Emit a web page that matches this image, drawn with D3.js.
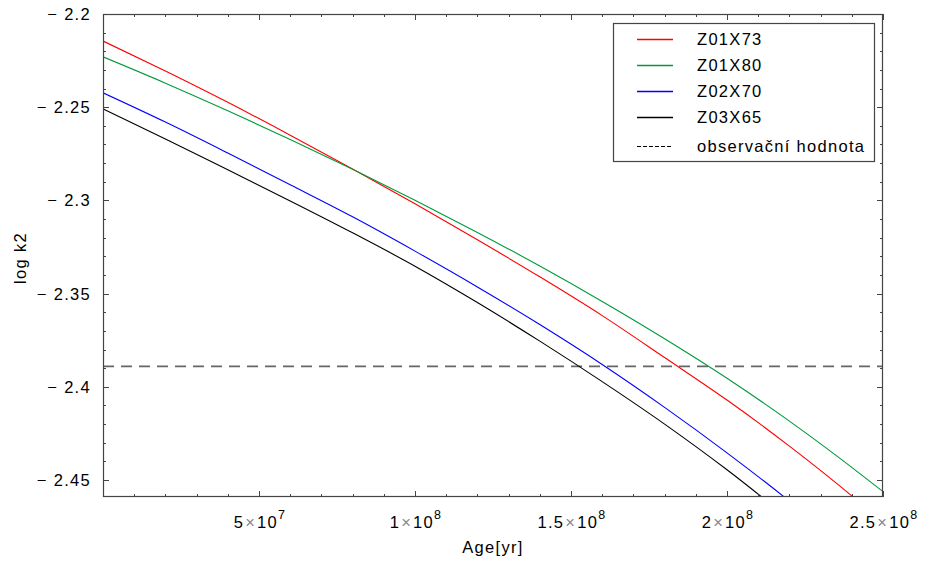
<!DOCTYPE html>
<html><head><meta charset="utf-8">
<script src="https://cdn.jsdelivr.net/npm/d3@7"></script>
<style>body{margin:0;background:#fff}svg{display:block}text{font-family:"Liberation Sans",Arial,sans-serif;letter-spacing:1.3px}</style>
</head><body><svg id="c" width="926" height="563"></svg>
<script>
// Age in millions of years
const ages = [0, 20, 40, 60, 80, 100, 120, 140, 160, 180, 200, 220, 240, 250];
const seriesNames = ["Z01X73", "Z01X80", "Z02X70", "Z03X65"];
const seriesColors = ["#ff0000", "#009a3a", "#0000ff", "#000000"];
const z01x73 = [-2.2145, -2.2306, -2.2474, -2.2650, -2.2832, -2.3018, -2.3211, -2.3410, -2.3618, -2.3843, -2.4071, -2.4318, -2.4585, -2.4728];
const z01x80 = [-2.2230, -2.2371, -2.2519, -2.2673, -2.2833, -2.2999, -2.3172, -2.3352, -2.3542, -2.3742, -2.3954, -2.4184, -2.4432, -2.4562];
const z02x70 = [-2.2423, -2.2580, -2.2746, -2.2916, -2.3088, -2.3272, -2.3464, -2.3666, -2.3880, -2.4110, -2.4354, -2.4613, -2.4890];
const z03x65 = [-2.2509, -2.2670, -2.2836, -2.3003, -2.3174, -2.3353, -2.3548, -2.3755, -2.3972, -2.4200, -2.4445, -2.4710];
const observed = -2.389;
const observedLabel = "observační hodnota";
const xMajorTicks = [50, 100, 150, 200, 250];
const xTickLabels = [["5", "7"], ["1", "8"], ["1.5", "8"], ["2", "8"], ["2.5", "8"]];
const yMajorTicks = [-2.2, -2.25, -2.3, -2.35, -2.4, -2.45];
const yTickLabels = ["2.2", "2.25", "2.3", "2.35", "2.4", "2.45"];
const xTitle = "Age[yr]";
const yTitle = "log k2";

const seriesValues = [z01x73, z01x80, z02x70, z03x65];

const svg = d3.select("#c");
const W = 926, H = 563;
const m = {l: 103, t: 14, r: 43, b: 66};
const FS = 16.5;
const x = d3.scaleLinear().domain([0, 250]).range([m.l, W - m.r]);
const y = d3.scaleLinear().domain([-2.4591, -2.2]).range([H - m.b, m.t]);

svg.append("defs").append("clipPath").attr("id", "clip")
  .append("rect").attr("x", m.l).attr("y", m.t).attr("width", W - m.l - m.r).attr("height", H - m.t - m.b);

const g = svg.append("g").attr("clip-path", "url(#clip)");
g.append("line").attr("x1", x(0)).attr("x2", x(250)).attr("y1", y(observed)).attr("y2", y(observed))
  .attr("stroke", "#666").attr("stroke-width", 1.8).attr("stroke-dasharray", "11,7");

const line = d3.line().x(d => x(d[0])).y(d => y(d[1])).curve(d3.curveMonotoneX);
seriesValues.forEach((vals, i) => {
  const pts = vals.map((v, j) => [ages[j], v]);
  g.append("path").attr("d", line(pts)).attr("fill", "none")
    .attr("stroke", seriesColors[i]).attr("stroke-width", 1.1);
});

// Frame
const fr = svg.append("g");
fr.append("rect").attr("x", m.l + 0.5).attr("y", m.t + 0.5).attr("width", W - m.l - m.r - 1).attr("height", H - m.t - m.b - 1)
  .attr("fill", "none").attr("stroke", "#444").attr("stroke-width", 1.2);

const xMinor = d3.range(10, 251, 10);
xMinor.forEach(v => {
  const major = xMajorTicks.includes(v);
  const len = major ? 6 : 3;
  const px = Math.round(x(v)) + 0.5;
  fr.append("line").attr("x1", px).attr("x2", px).attr("y1", H - m.b).attr("y2", H - m.b - len).attr("stroke", "#444");
  fr.append("line").attr("x1", px).attr("x2", px).attr("y1", m.t).attr("y2", m.t + len).attr("stroke", "#444");
});
const yMinor = d3.range(-2.45, -2.199, 0.01);
yMinor.forEach(v => {
  const major = yMajorTicks.some(t => Math.abs(t - v) < 1e-6);
  const len = major ? 6 : 3;
  const py = Math.round(y(v)) + 0.5;
  fr.append("line").attr("y1", py).attr("y2", py).attr("x1", m.l).attr("x2", m.l + len).attr("stroke", "#444");
  fr.append("line").attr("y1", py).attr("y2", py).attr("x1", W - m.r).attr("x2", W - m.r - len).attr("stroke", "#444");
});

xMajorTicks.forEach((v, i) => {
  const t = fr.append("text").attr("x", x(v) + 1).attr("y", 528).attr("text-anchor", "middle")
    .attr("font-size", FS).attr("fill", "#000");
  t.append("tspan").text(xTickLabels[i][0]);
  t.append("tspan").attr("fill", "#888").attr("dx", 1).text("\u00d7");
  t.append("tspan").attr("dx", 1).text("10");
  t.append("tspan").attr("dy", -9).attr("font-size", 12.5).text(xTickLabels[i][1]);
});
yMajorTicks.forEach((v, i) => {
  fr.append("text").attr("x", 91).attr("y", y(v) + 6).attr("text-anchor", "end")
    .attr("font-size", FS).attr("fill", "#000").text("\u2212 " + yTickLabels[i]);
});

fr.append("text").attr("x", 493).attr("y", 553).attr("text-anchor", "middle").attr("font-size", FS).text(xTitle);
fr.append("text").attr("transform", "translate(26,258) rotate(-90)").attr("text-anchor", "middle").attr("font-size", FS).text(yTitle);

// Legend
const lg = svg.append("g");
lg.append("rect").attr("x", 613.5).attr("y", 23.5).attr("width", 261).attr("height", 138)
  .attr("fill", "#fff").attr("stroke", "#444").attr("stroke-width", 1.2);
const rowsY = [39, 65, 91, 117, 146];
const legendLabels = seriesNames.concat([observedLabel]);
const legendColors = seriesColors.concat(["#000000"]);
legendLabels.forEach((name, i) => {
  const ly = rowsY[i];
  lg.append("line").attr("x1", 637).attr("x2", 673).attr("y1", ly + 0.5).attr("y2", ly + 0.5)
    .attr("stroke", legendColors[i]).attr("stroke-width", i < 4 ? 1.5 : 1)
    .attr("stroke-dasharray", i < 4 ? null : "4,2");
  lg.append("text").attr("x", 697).attr("y", ly + 6).attr("font-size", FS).text(name);
});
</script></body></html>
